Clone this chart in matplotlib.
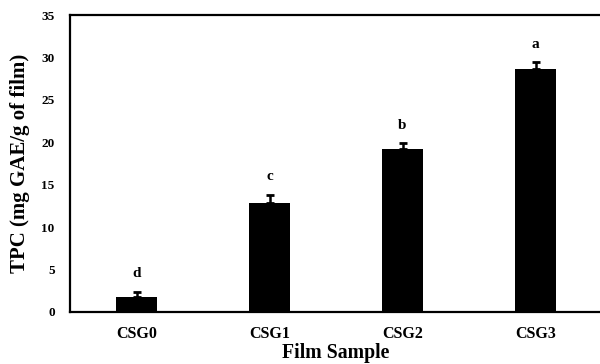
import matplotlib.pyplot as plt

# Data
samples = ["CSG0", "CSG1", "CSG2", "CSG3"]
tpc = [1.75, 12.9, 19.2, 28.65]
tpc_err = [0.65, 0.9, 0.7, 0.8]
letters = ["d", "c", "b", "a"]

plt.rcParams['font.family'] = ['Liberation Serif', 'DejaVu Serif']
plt.rcParams['font.weight'] = 'bold'

fig = plt.figure(figsize=(6, 3.64), dpi=100)
ax = fig.add_axes([70 / 600, 52 / 364, 532 / 600, 297 / 364])

x = list(range(len(samples)))
ax.bar(x, tpc, width=0.31, color='black', zorder=2)
ax.errorbar(x, tpc, yerr=[[0] * len(tpc), tpc_err], fmt='none', ecolor='black',
            elinewidth=1.8, capsize=3, capthick=2, zorder=3)

# significance letters above error bars
for xi, v, e, lab in zip(x, tpc, tpc_err, letters):
    ax.text(xi, v + e + 1.7, lab, ha='center', va='baseline', fontsize=11, fontweight='bold')

ax.set_xlim(-0.5, 3.5)
ax.set_ylim(0, 35)
ax.set_yticks(range(0, 36, 5))
ax.set_xticks(x)
ax.set_xticklabels(samples, fontsize=11.5, fontweight='bold')
ax.tick_params(axis='y', length=0, labelsize=9.5, pad=11)
ax.tick_params(axis='x', length=0, pad=10)
for lab in ax.get_yticklabels():
    lab.set_fontweight('bold')

ax.set_xlabel("Film Sample", fontsize=14.2, fontweight='bold', labelpad=1)
ax.set_ylabel("TPC (mg GAE/g of film)", fontsize=15, fontweight='bold', labelpad=8)

for s in ['left', 'bottom', 'top']:
    ax.spines[s].set_linewidth(1.6)
ax.spines['right'].set_visible(False)

plt.savefig("out.png", dpi=100)
